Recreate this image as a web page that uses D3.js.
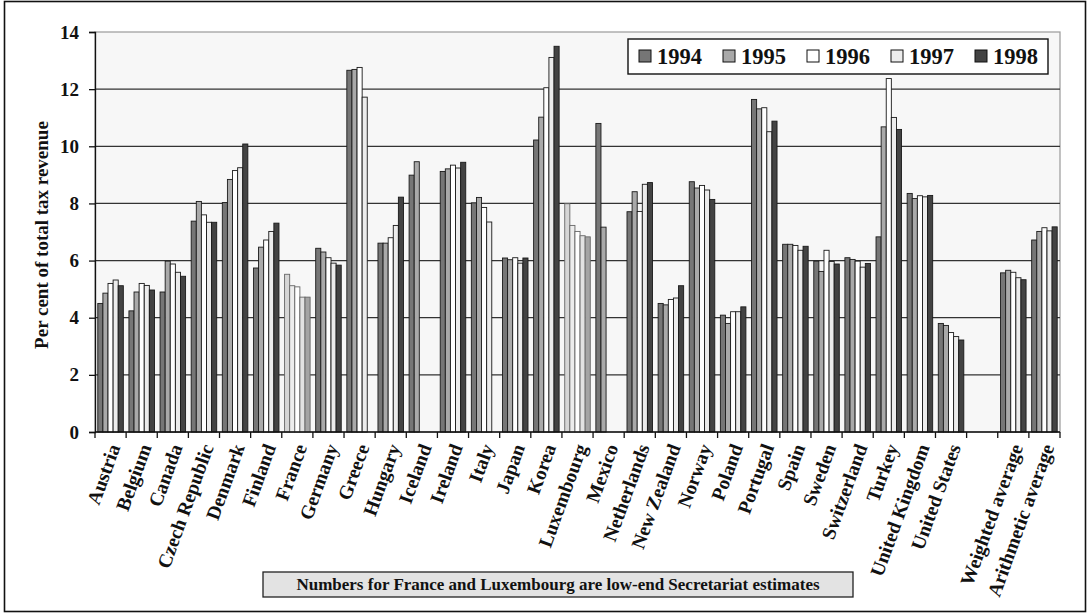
<!DOCTYPE html>
<html>
<head>
<meta charset="utf-8">
<script src="https://cdn.jsdelivr.net/npm/d3@7"></script>
<style>
  html, body { margin: 0; padding: 0; background: #ffffff; }
  svg { display: block; }
</style>
</head>
<body>
<svg id="chart" width="1091" height="615"></svg>
<script>
// Categories along the x axis; the empty string keeps a blank slot before the averages.
const categories = [
  "Austria", "Belgium", "Canada", "Czech Republic", "Denmark", "Finland", "France",
  "Germany", "Greece", "Hungary", "Iceland", "Ireland", "Italy", "Japan", "Korea",
  "Luxembourg", "Mexico", "Netherlands", "New Zealand", "Norway", "Poland", "Portugal",
  "Spain", "Sweden", "Switzerland", "Turkey", "United Kingdom", "United States",
  "", "Weighted average", "Arithmetic average"
];

const years = ["1994", "1995", "1996", "1997", "1998"];

// Per cent of total tax revenue, one array per year (null = not available).
const v1994 = [4.50, 4.24, 4.90, 7.38, 8.03, 5.74, 5.52, 6.43, 12.66, 6.61, 8.99, 9.12, 8.02, 6.09, 10.22,
               7.99, 10.80, 7.71, 4.50, 8.76, 4.09, 11.64, 6.57, 5.98, 6.10, 6.83, 8.35, 3.80, null, 5.57, 6.72];
const v1995 = [4.86, 4.90, 5.98, 8.07, 8.84, 6.47, 5.12, 6.30, 12.69, 6.61, 9.46, 9.21, 8.21, 6.03, 11.02,
               7.23, 7.17, 8.41, 4.45, 8.54, 3.80, 11.31, 6.57, 5.62, 6.04, 10.68, 8.17, 3.73, null, 5.66, 7.02];
const v1996 = [5.20, 5.20, 5.88, 7.60, 9.15, 6.72, 5.08, 6.10, 12.76, 6.80, null, 9.34, 7.86, 6.10, 12.05,
               7.02, null, 7.72, 4.64, 8.63, 4.21, 11.35, 6.53, 6.36, 5.98, 12.37, 8.27, 3.48, null, 5.59, 7.15];
const v1997 = [5.32, 5.13, 5.59, 7.34, 9.25, 7.02, 4.72, 5.91, 11.72, 7.23, null, 9.24, 7.35, 5.91, 13.11,
               6.87, null, 8.67, 4.69, 8.47, 4.21, 10.51, 6.36, 5.97, 5.77, 11.01, 8.23, 3.34, null, 5.40, 7.04];
const v1998 = [5.12, 4.97, 5.45, 7.34, 10.08, 7.31, 4.72, 5.84, null, 8.22, null, 9.44, null, 6.09, 13.50,
               6.83, null, 8.73, 5.12, 8.14, 4.38, 10.88, 6.50, 5.88, 5.90, 10.59, 8.28, 3.22, null, 5.33, 7.18];

const seriesValues = [v1994, v1995, v1996, v1997, v1998];

// Countries whose figures are Secretariat estimates get a lighter shading.
const estimated = ["France", "Luxembourg"];

const yTicks = [0, 2, 4, 6, 8, 10, 12, 14];

const yearFill = ["#767676", "#a9a9a9", "#ffffff", "#ececec", "#434343"];
const estimateFill = ["#d6d6d6", "#ededed", "#ffffff", "#e2e2e2", "#a4a4a4"];

const FONT = "'Liberation Serif', 'Times New Roman', Times, serif";

const svg = d3.select("#chart");

const plot = { left: 95, right: 1060, top: 32, bottom: 432 };

const x = d3.scaleBand().domain(categories).range([plot.left, plot.right]).paddingInner(0).paddingOuter(0);
const slotW = x.bandwidth();
const xYear = d3.scaleBand().domain(years).range([slotW * 0.09, slotW * 0.91]);
const y = d3.scaleLinear().domain([0, 14]).range([plot.bottom, plot.top]);

function styleText(sel, size) {
  return sel.style("font-family", FONT).style("font-weight", "bold")
    .style("font-size", size + "px").style("fill", "#111");
}

// Outer frame
svg.append("rect")
  .attr("x", 4.5).attr("y", 1.5).attr("width", 1081).attr("height", 610)
  .attr("fill", "#ffffff").attr("stroke", "#111").attr("stroke-width", 1.6);

// Plot background
svg.append("rect")
  .attr("x", plot.left).attr("y", plot.top)
  .attr("width", plot.right - plot.left).attr("height", plot.bottom - plot.top)
  .attr("fill", "#f7f7f7").attr("stroke", "#9a9a9a").attr("stroke-width", 1.2);

// Horizontal gridlines
svg.append("g").selectAll("line")
  .data(yTicks.filter(t => t > 0 && t < 14))
  .join("line")
  .attr("x1", plot.left).attr("x2", plot.right)
  .attr("y1", d => y(d)).attr("y2", d => y(d))
  .attr("stroke", "#333").attr("stroke-width", 1.3);

// Y axis
const yAxis = d3.axisLeft(y).tickValues(yTicks).tickSize(6).tickPadding(10).tickFormat(d3.format("d"));
const gy = svg.append("g").attr("transform", `translate(${plot.left},0)`).call(yAxis);
gy.attr("font-family", null).attr("font-size", null);
gy.select(".domain").attr("stroke", "#111").attr("stroke-width", 1.3);
gy.selectAll(".tick line").attr("stroke", "#111").attr("stroke-width", 1.3);
styleText(gy.selectAll(".tick text"), 19);

// Bars
const groups = svg.append("g").selectAll("g")
  .data(categories.map((c, i) => ({ c, i })).filter(d => d.c !== ""))
  .join("g")
  .attr("transform", d => `translate(${x(d.c)},0)`);

groups.selectAll("rect")
  .data(d => years.map((yr, k) => ({ yr, k, v: seriesValues[k][d.i], est: estimated.includes(d.c) }))
    .filter(b => b.v !== null))
  .join("rect")
  .attr("x", b => xYear(b.yr))
  .attr("width", xYear.bandwidth())
  .attr("y", b => y(b.v))
  .attr("height", b => y(0) - y(b.v))
  .attr("fill", b => b.est ? estimateFill[b.k] : yearFill[b.k])
  .attr("stroke", b => b.est ? "#666" : "#1a1a1a")
  .attr("stroke-width", 0.9);

// X axis line and slot ticks
svg.append("line")
  .attr("x1", plot.left).attr("x2", plot.right)
  .attr("y1", plot.bottom).attr("y2", plot.bottom)
  .attr("stroke", "#111").attr("stroke-width", 1.4);

const boundaries = categories.map(c => x(c)).concat([plot.right]);
svg.append("g").selectAll("line")
  .data(boundaries)
  .join("line")
  .attr("x1", d => d).attr("x2", d => d)
  .attr("y1", plot.bottom).attr("y2", plot.bottom + 6)
  .attr("stroke", "#111").attr("stroke-width", 1.3);

// Category labels, slanted
styleText(svg.append("g").selectAll("text")
  .data(categories.filter(c => c !== ""))
  .join("text")
  .attr("transform", c => `translate(${x(c) + slotW / 2 + 10},${plot.bottom + 15}) rotate(-70)`)
  .attr("text-anchor", "end")
  .text(c => c), 19.5);

// Y axis title
styleText(svg.append("text")
  .attr("transform", `translate(48,${(plot.top + plot.bottom) / 2 + 3}) rotate(-90)`)
  .attr("text-anchor", "middle")
  .text("Per cent of total tax revenue"), 19);

// Legend
const legend = svg.append("g");
legend.append("rect")
  .attr("x", 628).attr("y", 39).attr("width", 420).attr("height", 35)
  .attr("fill", "#ffffff").attr("stroke", "#111").attr("stroke-width", 1.4);
const legendX = [639, 723, 807, 891, 975];
years.forEach((yr, k) => {
  legend.append("rect")
    .attr("x", legendX[k]).attr("y", 50).attr("width", 12).attr("height", 12)
    .attr("fill", yearFill[k]).attr("stroke", "#111").attr("stroke-width", 1);
  styleText(legend.append("text")
    .attr("x", legendX[k] + 18).attr("y", 64)
    .text(yr), 22.5);
});

// Footnote
svg.append("rect")
  .attr("x", 263).attr("y", 572).attr("width", 590).attr("height", 25)
  .attr("fill", "#e3e3e3").attr("stroke", "#222").attr("stroke-width", 1.3);
styleText(svg.append("text")
  .attr("x", 558).attr("y", 590)
  .attr("text-anchor", "middle")
  .text("Numbers for France and Luxembourg are low-end Secretariat estimates"), 17);
</script>
</body>
</html>
